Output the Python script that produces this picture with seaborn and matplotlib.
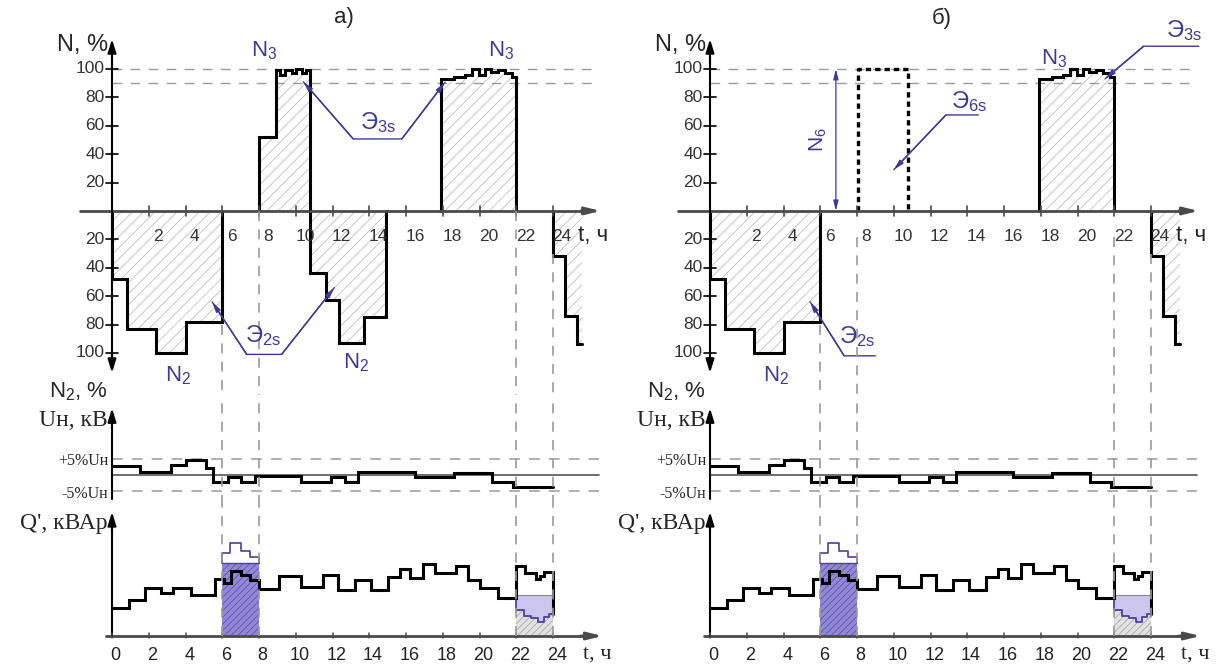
import numpy as np
import matplotlib
matplotlib.use("Agg")
import matplotlib.pyplot as plt
import seaborn as sns

# ---------------- data ----------------
hours = list(range(2, 25, 2))
bottom_hours = list(range(0, 25, 2))
n_ticks = [20, 40, 60, 80, 100]
n_limits = [100, 90]

# N2 (consumption below axis, %) and N3 (above axis, %)
n2_a_edges = [0.0, 0.8, 2.4, 4.0, 6.0]
n2_a_levels = [48, 83, 100, 78]
n3_a_edges = [8.0, 8.9, 9.17, 9.44, 9.77, 9.99, 10.32, 10.54, 10.8]
n3_a_levels = [52, 99, 96, 99, 97, 100, 97, 99]
n2_b_edges = [10.8, 11.65, 12.35, 13.7, 14.9]
n2_b_levels = [44, 63, 93, 75]
n3_b_edges = [17.9, 18.6, 19.2, 19.6, 19.95, 20.3, 20.6, 21.0, 21.4, 21.75, 22.0]
n3_b_levels = [93, 94, 96, 100, 96, 100, 98, 99, 97, 94]
n2_c_edges = [24.0, 24.65, 25.3, 25.6]
n2_c_levels = [32, 74, 94]
n6_window = [8.05, 10.75]
n6_level = 100

# voltage deviation, %
u_edges = [0, 1.5, 3.2, 4.0, 5.1, 5.5, 6.3, 7.0, 7.8, 10.3, 11.9, 12.7, 13.4,
           16.5, 18.6, 20.7, 21.8, 24.0]
u_levels = [2.8, 0.8, 3.1, 4.6, 2.1, -2.1, -0.5, -2.1, -0.3, -2.1, -0.5, -2.1,
            0.9, -0.7, 0.5, -2.1, -3.8]
u_band = 5

# reactive power (relative units)
q_edges = [0, 0.9, 1.8, 2.66, 3.34, 4.3, 5.6, 6.1, 6.5, 7.0, 7.5, 8.0, 9.1, 10.3,
           11.5, 12.3, 13.2, 14.1, 15.0, 15.7, 16.2, 16.9, 17.6, 18.7, 19.4, 20.05,
           21.0, 22.0, 22.5, 23.1, 23.3, 23.5, 24.0]
q_levels = [28, 36, 48, 43, 48, 41, 57, 53, 65, 61, 56, 47, 60, 49, 61, 46, 56, 46,
            59, 67, 58, 72, 63, 70, 56, 48, 38, 70, 63, 57, 60, 64]
q_end = 22
qp_edges = [6.0, 6.4, 7.0, 7.5, 8.0]
qp_levels = [83, 93, 85, 79]
qp_fill = 73
qn_edges = [22.0, 22.4, 22.8, 23.2, 23.5, 23.8, 24.0]
qn_levels = [26, 20, 18, 14, 19, 22]
qn_fill = 41

# ---------------- style ----------------
sns.set_style("white")
SANS = ["Liberation Sans", "DejaVu Sans"]
SERIF = ["Liberation Serif", "DejaVu Serif"]
plt.rcParams["font.family"] = SANS
plt.rcParams["mathtext.default"] = "regular"
plt.rcParams["hatch.linewidth"] = 0.6

ANN = "#3b3a96"
GREY = "#9a9a9a"
AX = "#4a4a4a"

W, H = 1228, 665
fig = plt.figure(figsize=(W / 100, H / 100), dpi=100)

PXH = 18.375
XL = (-52 / PXH, 493 / PXH)


def ftext(x, y, s, **kw):
    fig.text(x / W, 1 - y / H, s, **kw)


def add_ax(ox, top, bottom, ylim):
    ax = fig.add_axes([(ox - 52) / W, 1 - bottom / H, 545 / W, (bottom - top) / H])
    ax.set_axis_off()
    ax.set_xlim(*XL)
    ax.set_ylim(*ylim)
    return ax


def steps(edges, levels, start=None, end=None, sign=1):
    xs = np.repeat(np.asarray(edges, float), 2)
    ys = np.concatenate([[0 if start is None else start],
                         np.repeat(np.asarray(levels, float) * sign, 2),
                         [0 if end is None else end]])
    if start is None:
        xs, ys = xs[1:], ys[1:]
    if end is None:
        xs, ys = xs[:-1], ys[:-1]
    return xs, ys


def line(ax, xs, ys, color="k", lw=2.2, **kw):
    sns.lineplot(x=xs, y=ys, sort=False, estimator=None, color=color, lw=lw,
                 ax=ax, solid_joinstyle="miter", **kw)


def arrow(ax, p0, p1, color="k", lw=1.4, hw=0.25, hl=0.8):
    ax.annotate("", xy=p1, xytext=p0, annotation_clip=False,
                arrowprops=dict(arrowstyle=f"-|>,head_length={hl},head_width={hw}",
                                color=color, lw=lw, shrinkA=0, shrinkB=0))


def leader(ax, pts, heads):
    xs = [p[0] for p in pts]
    ys = [p[1] for p in pts]
    ax.plot(xs, ys, color=ANN, lw=1.0)
    if heads[0]:
        arrow(ax, pts[1], pts[0], color=ANN, lw=1.0, hw=0.15, hl=0.6)
    if heads[1]:
        arrow(ax, pts[-2], pts[-1], color=ANN, lw=1.0, hw=0.15, hl=0.6)


def hatch_fill(ax, xs, ys, base=0):
    ax.fill_between(xs, ys, base, facecolor="none", edgecolor="#bdbdbd",
                    hatch="///", linewidth=0)


def draw_panel(ox, variant):
    top = add_ax(ox, 12, 395, (-129.6, 140.1))
    mid = add_ax(ox, 395, 505, (-9.26, 24.69))
    bot = add_ax(ox, 505, 640, (-4, 131))

    # ---- top: N ----
    for lv in n_limits:
        top.plot([0, 26.5], [lv, lv], color=GREY, lw=1.0, dashes=(7, 6))
    blocks = [(n2_a_edges, n2_a_levels, -1), (n3_b_edges, n3_b_levels, 1)]
    if variant == "a":
        blocks += [(n3_a_edges, n3_a_levels, 1), (n2_b_edges, n2_b_levels, -1)]
    for e, l, sg in blocks:
        xs, ys = steps(e, l, 0, 0, sg)
        hatch_fill(top, xs, ys)
        line(top, xs, ys)
    xs, ys = steps(n2_c_edges, n2_c_levels, 0, None, -1)
    hatch_fill(top, np.append(xs, xs[-1]), np.append(ys, -30))
    line(top, xs, ys)

    if variant == "b":
        top.plot([n6_window[0], n6_window[0], n6_window[1], n6_window[1]],
                 [0, n6_level, n6_level, 0], color="k", lw=2.4, dashes=(1.6, 1.2))
        top.annotate("", xy=(6.85, 100), xytext=(6.85, 0),
                     arrowprops=dict(arrowstyle="<|-|>,head_length=0.6,head_width=0.15",
                                     color=ANN, lw=0.9, shrinkA=0, shrinkB=0))
        top.text(5.9, 50, "N$_6$", rotation=90, color=ANN, fontsize=15,
                 ha="center", va="center")

    # axes of the top panel
    top.plot([-1.75, 26.0], [0, 0], color=AX, lw=2.0)
    arrow(top, (25.5, 0), (26.6, 0), color=AX, lw=2.0, hw=0.22, hl=0.9)
    top.plot([0, 0], [-108, 115], color="k", lw=1.5)
    arrow(top, (0, 100), (0, 121), lw=1.5)
    arrow(top, (0, -100), (0, -114), lw=1.5)
    for v in n_ticks:
        for sg in (1, -1):
            top.plot([-0.3, 0.3], [sg * v, sg * v], color="k", lw=1.2)
            top.text(-0.4, sg * v, str(v), ha="right", va="center",
                     fontsize=12.5, color="#333333")
    for h in hours:
        top.plot([h, h], [-3.5, 3.5], color=AX, lw=1.2)
        top.text(h + 0.5, -18, str(h), ha="center", va="center",
                 fontsize=12.5, color="#333333")
    top.text(26.2, -17, "t, ч", ha="center", va="center", fontsize=16)

    # labels / leaders
    kw = dict(color=ANN, ha="center", va="center")
    if variant == "a":
        top.text(8.3, 113, "N$_3$", fontsize=16, **kw)
        top.text(21.2, 113, "N$_3$", fontsize=16, **kw)
        top.text(3.6, -116, "N$_2$", fontsize=16, **kw)
        top.text(13.3, -107, "N$_2$", fontsize=16, **kw)
        leader(top, [(10.41, 91), (13.13, 50.7), (15.77, 50.7), (18.12, 90.6)], (True, True))
        top.text(14.5, 62, "Э$_{3s}$", fontsize=17, **kw)
        leader(top, [(5.45, -64), (7.33, -101), (9.23, -101), (12.1, -54)], (True, True))
        top.text(8.2, -88, "Э$_{2s}$", fontsize=17, **kw)
    else:
        top.text(18.7, 107, "N$_3$", fontsize=16, **kw)
        top.text(3.6, -116, "N$_2$", fontsize=16, **kw)
        leader(top, [(21.5, 93), (23.6, 116), (26.6, 116)], (True, False))
        top.text(25.8, 127, "Э$_{3s}$", fontsize=17, **kw)
        leader(top, [(10.0, 29), (12.84, 67.6), (14.6, 67.6)], (True, False))
        top.text(14.1, 77, "Э$_{6s}$", fontsize=17, **kw)
        leader(top, [(5.45, -64), (7.3, -102), (9.0, -102)], (True, False))
        top.text(8.0, -88.5, "Э$_{2s}$", fontsize=17, **kw)

    # ---- middle: U ----
    for lv in (u_band, -u_band):
        mid.plot([0, 26.5], [lv, lv], color=GREY, lw=1.1, dashes=(7, 6))
    mid.plot([0, 26.5], [0, 0], color="#555555", lw=1.2)
    xs, ys = steps(u_edges, u_levels)
    line(mid, xs, ys)
    mid.plot([0, 0], [-7.4, 18], color="k", lw=1.5)
    arrow(mid, (0, 14), (0, 20.6), lw=1.5)

    # ---- bottom: Q ----
    bot.fill_between([6, 8], 0, qp_fill, facecolor="#9189d8", edgecolor="#5a51ac",
                     hatch="/////", linewidth=0)
    xs, ys = steps(qp_edges, qp_levels, qp_fill, qp_fill)
    bot.plot(xs, ys, color="#4a40a0", lw=1.2)
    bot.plot([6, 8], [qp_fill, qp_fill], color="#4a40a0", lw=1.0)
    bot.fill_between([22, 24], 0, qn_fill, facecolor="#e2e2e2", edgecolor="#a8a8a8",
                     hatch="/////", linewidth=0)
    xs, ys = steps(qn_edges, qn_levels, qn_fill, None)
    bot.fill_between(xs, ys, qn_fill, facecolor="#cbc6ec", linewidth=0)
    bot.plot([22, 24], [qn_fill, qn_fill], color="#888888", lw=0.8)
    bot.plot(xs, ys, color="#4a40a0", lw=1.3)
    xs, ys = steps(q_edges, q_levels, None, q_end)
    line(bot, xs, ys)

    bot.plot([-0.3, 26.0], [0, 0], color=AX, lw=2.0)
    arrow(bot, (25.5, 0), (26.7, 0), color=AX, lw=2.0, hw=0.22, hl=0.9)
    bot.plot([0, 0], [0, 112], color="k", lw=1.5)
    arrow(bot, (0, 105), (0, 124), lw=1.5)
    for h in bottom_hours:
        bot.plot([h, h], [-2, 3], color=AX, lw=1.1)
        bot.text(h + 0.2, -19, str(h), ha="center", va="center",
                 fontsize=13, color="#222222")
    bot.text(26.4, -18, "t, ч", ha="center", va="center", fontsize=16,
             family=SERIF)

    # ---- vertical guide lines ----
    starts = {6: -80, 8: 0, 22: 0, 24: -30} if variant == "a" else \
        {6: -80, 8: -18, 22: -18, 24: -30}
    for t, s in starts.items():
        top.plot([t, t], [s, -129.6], color=GREY, lw=1.2, dashes=(6, 5))
        mid.plot([t, t], [-9.26, 24.69], color=GREY, lw=1.2, dashes=(6, 5))
        bot.plot([t, t], [0, 131], color=GREY, lw=1.2, dashes=(6, 5))

    # ---- side labels ----
    ftext(ox - 4, 45, "N, %", ha="right", va="center", fontsize=17)
    ftext(ox - 4, 392, "N$_2$, %", ha="right", va="center", fontsize=16)
    ftext(ox - 4, 421, "Uн, кВ", ha="right", va="center", fontsize=17, family=SERIF)
    ftext(ox - 4, 461, "+5%Uн", ha="right", va="center", fontsize=11.5, family=SERIF)
    ftext(ox - 4, 494, "-5%Uн", ha="right", va="center", fontsize=11.5, family=SERIF)
    ftext(ox - 4, 523, "Q', кВАр", ha="right", va="center", fontsize=17, family=SERIF)
    ftext(ox + 232, 18, "а)" if variant == "a" else "б)", ha="center",
          va="center", fontsize=16)


draw_panel(112, "a")
draw_panel(710, "b")

fig.savefig("out.png", dpi=100)
